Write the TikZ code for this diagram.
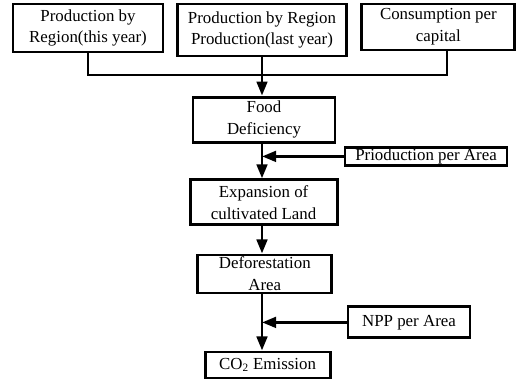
\documentclass[tikz,border=0pt]{standalone}
\usepackage{fontspec}
\setmainfont{Liberation Serif}
\usetikzlibrary{arrows.meta, calc}

\begin{document}
\begin{tikzpicture}[
    blk/.style={draw, line width=2.1pt, align=center, inner sep=0pt,
        font=\fontsize{12}{15.5}\selectfont},
    flow/.style={line width=2.1pt, -{Triangle[length=10pt, width=7.5pt]}}
]
\useasboundingbox (0, 0) rectangle (12.925, -9.5);

\node [blk, minimum width=3.75cm, minimum height=1.2cm] (prodThis) at (2.2, -0.7) {Production by\\Region(this year)};
\node [blk, minimum width=4.225cm, minimum height=1.3cm] (prodLast) at (6.55, -0.75) {Production by Region\\Production(last year)};
\node [blk, minimum width=3.825cm, minimum height=1.15cm] (consump) at (10.96, -0.675) {Consumption per\\capital};

\node [blk, minimum width=3.55cm, minimum height=1.125cm] (food) at (6.6, -2.99) {Food\\Deficiency};
\node [blk, minimum width=4.05cm, minimum height=0.45cm] (prodArea) at (10.65, -3.91) {Prioduction per Area};
\node [blk, minimum width=3.675cm, minimum height=1.125cm] (expand) at (6.59, -5.06) {Expansion of\\cultivated Land};
\node [blk, minimum width=3.35cm, minimum height=0.95cm] (defor) at (6.62, -6.85) {Deforestation\\Area};
\node [blk, minimum width=3.05cm, minimum height=0.775cm] (npp) at (10.225, -8.06) {NPP per Area};
\node [blk, minimum width=3.125cm, minimum height=0.65cm] (co2) at (6.69, -9.125) {CO\textsubscript{2} Emission};

% bus joining the three sources
\coordinate (bus) at (6.55, -1.875);
\coordinate (c3) at ($(consump.south)+(0.215, 0)$);
\draw [line width=2.1pt] (prodThis.south) |- (bus) -| (c3);
\draw [flow] (prodLast.south) -- (bus) -- (bus |- food.north);

\coordinate (j1) at (bus |- prodArea.west);
\draw [flow] (prodArea.west) -- (j1);
\draw [flow] (bus |- food.south) -- (bus |- expand.north);

\draw [flow] (bus |- expand.south) -- (bus |- defor.north);

\coordinate (j2) at (bus |- npp.west);
\draw [flow] (npp.west) -- (j2);
\draw [flow] (bus |- defor.south) -- (bus |- co2.north);

\end{tikzpicture}
\end{document}
